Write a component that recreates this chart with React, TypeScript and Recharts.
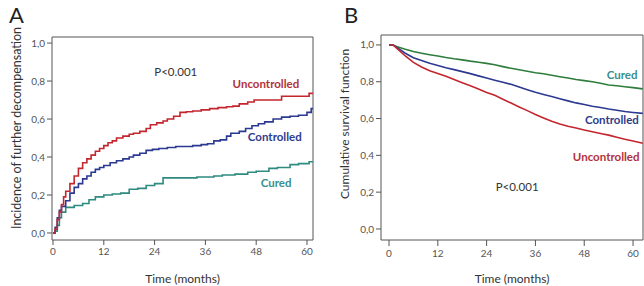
import React from "react";
import {
  LineChart,
  Line,
  XAxis,
  YAxis,
  ReferenceArea,
  ReferenceDot,
  Label,
} from "recharts";

// ---------- Panel A: incidence of further decompensation ----------
const aUncontrolledT = [0, 0.5, 1, 1.5, 2, 2.5, 3, 4, 5, 6, 7, 8, 9, 10, 11, 12, 13, 14, 15, 16.5, 18, 19, 20.5, 22, 23, 24.5, 26, 27, 28.5, 30, 31.5, 33, 35, 37, 39, 41, 42.5, 44, 46, 47.5, 50, 54, 60.5, 61.4];
const aUncontrolledV = [0, 0.02, 0.07, 0.11, 0.15, 0.19, 0.22, 0.26, 0.3, 0.34, 0.37, 0.39, 0.41, 0.43, 0.445, 0.46, 0.475, 0.485, 0.5, 0.51, 0.52, 0.525, 0.535, 0.55, 0.57, 0.58, 0.59, 0.6, 0.615, 0.635, 0.638, 0.642, 0.648, 0.655, 0.66, 0.665, 0.668, 0.68, 0.69, 0.7, 0.7, 0.72, 0.735, 0.735];

const aControlledT = [0, 0.5, 1, 1.5, 2, 3, 4, 5, 6, 7, 8, 9, 10, 11, 12, 13.5, 15, 16.5, 18, 19, 20.5, 22, 23.5, 25, 27, 29, 31, 33, 35, 36.5, 38, 39.5, 41, 42, 44, 45.5, 47, 48.5, 50, 52, 54, 56, 58, 60, 61, 61.4];
const aControlledV = [0, 0.03, 0.08, 0.12, 0.14, 0.17, 0.21, 0.24, 0.26, 0.285, 0.3, 0.32, 0.335, 0.345, 0.355, 0.37, 0.38, 0.39, 0.4, 0.41, 0.42, 0.435, 0.44, 0.445, 0.45, 0.455, 0.455, 0.46, 0.465, 0.47, 0.485, 0.49, 0.51, 0.525, 0.535, 0.55, 0.565, 0.575, 0.585, 0.6, 0.61, 0.615, 0.62, 0.635, 0.655, 0.655];

const aCuredT = [0, 0.5, 1, 1.5, 2, 3, 5, 7, 8.5, 10, 12, 14, 16, 18, 20, 22, 24, 26, 30, 34, 38, 40, 43, 46, 48, 51, 53, 56, 58, 60.5, 61.4];
const aCuredV = [0, 0.01, 0.04, 0.08, 0.11, 0.135, 0.145, 0.155, 0.175, 0.19, 0.2, 0.205, 0.21, 0.23, 0.235, 0.25, 0.26, 0.29, 0.29, 0.295, 0.3, 0.305, 0.31, 0.32, 0.325, 0.34, 0.345, 0.36, 0.365, 0.375, 0.375];

// ---------- Panel B: cumulative survival ----------
const bTimes = [0, 1, 2, 4, 6, 8, 10, 12, 14, 16, 18, 20, 22, 24, 26, 28, 30, 32, 34, 36, 38, 40, 42, 44, 46, 48, 50, 52, 54, 56, 58, 60, 62.4];
const bCured = [1.0, 1.0, 0.99, 0.976, 0.964, 0.955, 0.947, 0.94, 0.932, 0.925, 0.919, 0.912, 0.906, 0.9, 0.892, 0.882, 0.873, 0.865, 0.857, 0.849, 0.843, 0.835, 0.827, 0.82, 0.812, 0.806, 0.8, 0.792, 0.782, 0.778, 0.773, 0.768, 0.761];
const bControlled = [1.0, 1.0, 0.985, 0.955, 0.93, 0.915, 0.9, 0.888, 0.876, 0.866, 0.855, 0.844, 0.832, 0.82, 0.808, 0.797, 0.786, 0.772, 0.757, 0.743, 0.731, 0.72, 0.708, 0.696, 0.685, 0.676, 0.667, 0.66, 0.652, 0.645, 0.638, 0.633, 0.628];
const bUncontrolled = [1.0, 1.0, 0.98, 0.94, 0.905, 0.88, 0.86, 0.845, 0.83, 0.812, 0.795, 0.778, 0.76, 0.742, 0.726, 0.705, 0.684, 0.663, 0.643, 0.622, 0.603, 0.585, 0.57, 0.558, 0.549, 0.538, 0.528, 0.519, 0.51, 0.498, 0.487, 0.478, 0.466];

const xTicks = [0, 12, 24, 36, 48, 60];
const yTicks = [0, 0.2, 0.4, 0.6, 0.8, 1.0];

const zip = (t: number[], v: number[]) => t.map((x, i) => ({ t: x, v: v[i] }));
const aUnc = zip(aUncontrolledT, aUncontrolledV);
const aCon = zip(aControlledT, aControlledV);
const aCur = zip(aCuredT, aCuredV);
const bData = bTimes.map((t, i) => ({
  t,
  cured: bCured[i],
  controlled: bControlled[i],
  uncontrolled: bUncontrolled[i],
}));

const FONT = "Lato, 'Open Sans', sans-serif";
const RED = "#c4262e";
const BLUE = "#2b3990";
const TEAL = "#2f8a80";
const GREEN = "#2e7d3c";
const RED_T = "#b3323a";
const BLUE_T = "#2f3c8c";
const TEAL_T = "#3a8f8f";
const AXIS = "#555";

const fmt = (v: number) => v.toFixed(1).replace(".", ",");
const tickStyle = { fontSize: 10, fill: "#555", fontFamily: FONT };

const Annot = ({ x, y, text, color, bold }: any) => (
  <ReferenceDot
    x={x}
    y={y}
    r={0}
    fill="none"
    stroke="none"
    ifOverflow="visible"
    label={{
      value: text,
      position: "center",
      fill: color,
      fontSize: bold ? 11.5 : 11.5,
      fontWeight: bold ? 700 : 400,
      fontFamily: FONT,
    }}
  />
);

const yTitle = (text: string, dx: number, cy: number, size: number) => (
  <Label
    content={(props: any) => {
      const vb = props.viewBox;
      const x = vb.x + dx;
      return (
        <text
          x={x}
          y={cy}
          transform={`rotate(-90 ${x} ${cy})`}
          textAnchor="middle"
          dominantBaseline="middle"
          fontSize={size}
          fill="#333"
          fontFamily={FONT}
        >
          {text}
        </text>
      );
    }}
  />
);

const ChartA = () => (
  <LineChart width={322} height={286} margin={{ top: 37, right: 9, bottom: 0, left: 0 }}>
    <XAxis
      type="number"
      dataKey="t"
      domain={[-0.24, 61.42]}
      ticks={xTicks}
      allowDataOverflow
      height={46}
      axisLine={false}
      tickSize={5}
      tickMargin={3}
      tick={tickStyle}
      tickLine={{ stroke: AXIS }}
    >
      <Label value="Time (months)" position="insideBottom" offset={3} fontSize={12} fill="#333" fontFamily={FONT} />
    </XAxis>
    <YAxis
      type="number"
      domain={[-0.037, 1.032]}
      ticks={yTicks}
      allowDataOverflow
      width={52}
      axisLine={false}
      tickSize={5}
      tickMargin={2}
      tick={tickStyle}
      tickLine={{ stroke: AXIS }}
      tickFormatter={fmt}
    >
      {yTitle("Incidence of further decompensation", 18, 128, 12.5)}
    </YAxis>
    <ReferenceArea x1={-0.24} x2={61.42} y1={-0.037} y2={1.032} fill="none" stroke={AXIS} strokeWidth={1} ifOverflow="visible" />
    <Line data={aCur} dataKey="v" type="stepAfter" stroke={TEAL} strokeWidth={1.6} dot={false} isAnimationActive={false} />
    <Line data={aCon} dataKey="v" type="stepAfter" stroke={BLUE} strokeWidth={1.6} dot={false} isAnimationActive={false} />
    <Line data={aUnc} dataKey="v" type="stepAfter" stroke={RED} strokeWidth={1.6} dot={false} isAnimationActive={false} />
    <Annot x={29} y={0.847} text="P<0.001" color="#333" />
    <Annot x={50.3} y={0.784} text="Uncontrolled" color={RED_T} bold />
    <Annot x={52.4} y={0.505} text="Controlled" color={BLUE_T} bold />
    <Annot x={52.7} y={0.263} text="Cured" color={TEAL_T} bold />
  </LineChart>
);

const ChartB = () => (
  <LineChart width={322} height={286} data={bData} margin={{ top: 35, right: 1, bottom: 0, left: 0 }}>
    <XAxis
      type="number"
      dataKey="t"
      domain={[-1.97, 62.45]}
      ticks={xTicks}
      allowDataOverflow
      height={46}
      axisLine={false}
      tickSize={6}
      tickMargin={4}
      tick={tickStyle}
      tickLine={{ stroke: AXIS }}
    >
      <Label value="Time (months)" position="insideBottom" offset={3} fontSize={12} fill="#333" fontFamily={FONT} />
    </XAxis>
    <YAxis
      type="number"
      domain={[-0.06, 1.054]}
      ticks={yTicks}
      allowDataOverflow
      width={59}
      axisLine={false}
      tickSize={5}
      tickMargin={2}
      tick={tickStyle}
      tickLine={{ stroke: AXIS }}
      tickFormatter={fmt}
    >
      {yTitle("Cumulative survival function", 24, 124, 12)}
    </YAxis>
    <ReferenceArea x1={-1.97} x2={62.45} y1={-0.06} y2={1.054} fill="none" stroke={AXIS} strokeWidth={1} ifOverflow="visible" />
    <Line dataKey="cured" type="linear" stroke={GREEN} strokeWidth={1.6} dot={false} isAnimationActive={false} />
    <Line dataKey="controlled" type="linear" stroke={BLUE} strokeWidth={1.6} dot={false} isAnimationActive={false} />
    <Line dataKey="uncontrolled" type="linear" stroke={RED} strokeWidth={1.6} dot={false} isAnimationActive={false} />
    <Annot x={57.3} y={0.837} text="Cured" color={TEAL_T} bold />
    <Annot x={54.8} y={0.592} text="Controlled" color={BLUE_T} bold />
    <Annot x={53.4} y={0.391} text="Uncontrolled" color={RED_T} bold />
    <Annot x={31.5} y={0.228} text="P<0.001" color="#333" />
  </LineChart>
);

export default function App() {
  return (
    <div style={{ position: "absolute", left: 0, top: 0, width: 644, height: 286, overflow: "hidden", background: "#fff" }}>
      <div style={{ position: "absolute", left: 0, top: 0 }}>
        <ChartA />
      </div>
      <div style={{ position: "absolute", left: 322, top: 0 }}>
        <ChartB />
      </div>
      <div style={{ position: "absolute", left: 9, top: 3, fontSize: 22, fontFamily: FONT, color: "#222", lineHeight: "24px" }}>A</div>
      <div style={{ position: "absolute", left: 344, top: 3, fontSize: 22, fontFamily: FONT, color: "#222", lineHeight: "24px" }}>B</div>
    </div>
  );
}
